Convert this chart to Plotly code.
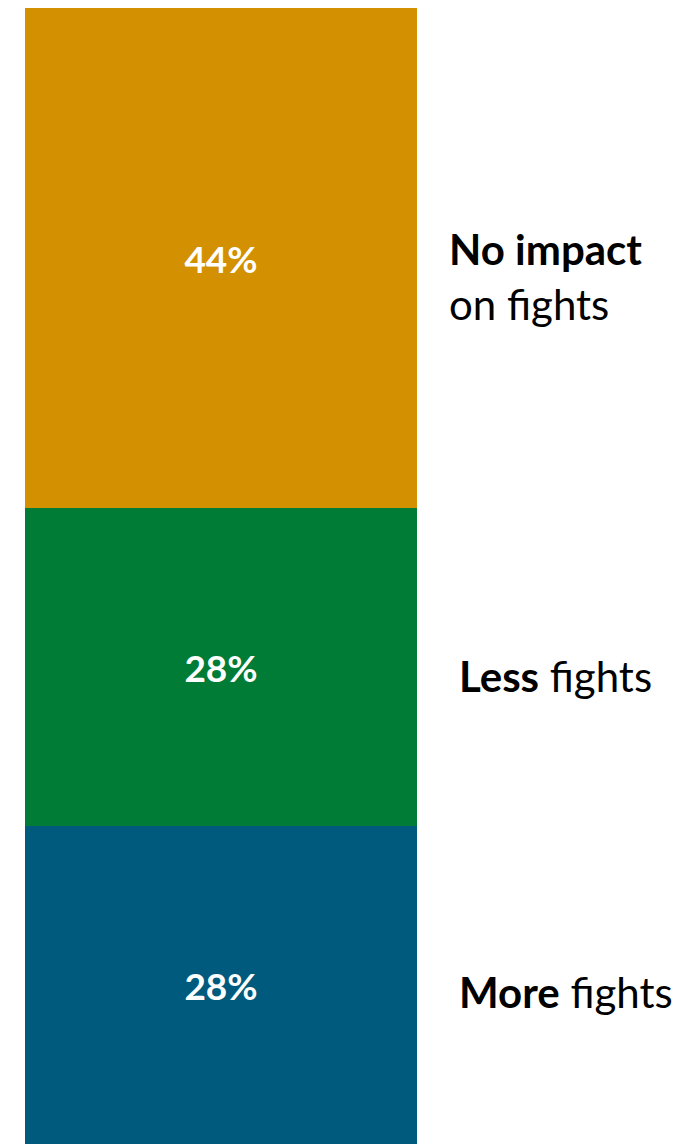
import plotly.graph_objects as go

categories = ["More fights", "Less fights", "No impact on fights"]
values = [28, 28, 44]
bold_part = ["More", "Less", "No impact"]
rest_part = [" fights", " fights", "<br>on fights"]
colors = ["#005A7E", "#007C36", "#D39000"]

fig = go.Figure()
for cat, v, c in zip(categories, values, colors):
    fig.add_trace(go.Bar(
        x=["all"], y=[v], name=cat, marker=dict(color=c, line=dict(width=0)),
        text=[f"{v}%"], textposition="inside", insidetextanchor="middle",
        textfont=dict(family="Lato", size=37, color="white", weight="bold"),
        width=1,
    ))

# page x of label left edges (page has 8px body offset)
annot_x = [457, 457, 447]
annot_dy = [-7, -9, -19]
cum = 0
for v, b, r, ax, dy in zip(values, bold_part, rest_part, annot_x, annot_dy):
    mid = cum + v / 2
    cum += v
    fig.add_annotation(
        x=(ax - 25) / 392, xref="paper", y=mid, yref="y",
        text=f"<b>{b}</b>{r}", showarrow=False, xanchor="left", yanchor="middle",
        align="left", yshift=dy,
        font=dict(family="Lato", size=42, color="black"),
    )

fig.update_layout(
    barmode="stack", width=674, height=1136,
    margin=dict(l=17, r=265, t=0, b=0),
    plot_bgcolor="white", paper_bgcolor="white",
    showlegend=False, bargap=0,
    xaxis=dict(visible=False, range=[-0.5, 0.5]),
    yaxis=dict(visible=False, range=[0, 100]),
)
fig.write_html("out.html")
